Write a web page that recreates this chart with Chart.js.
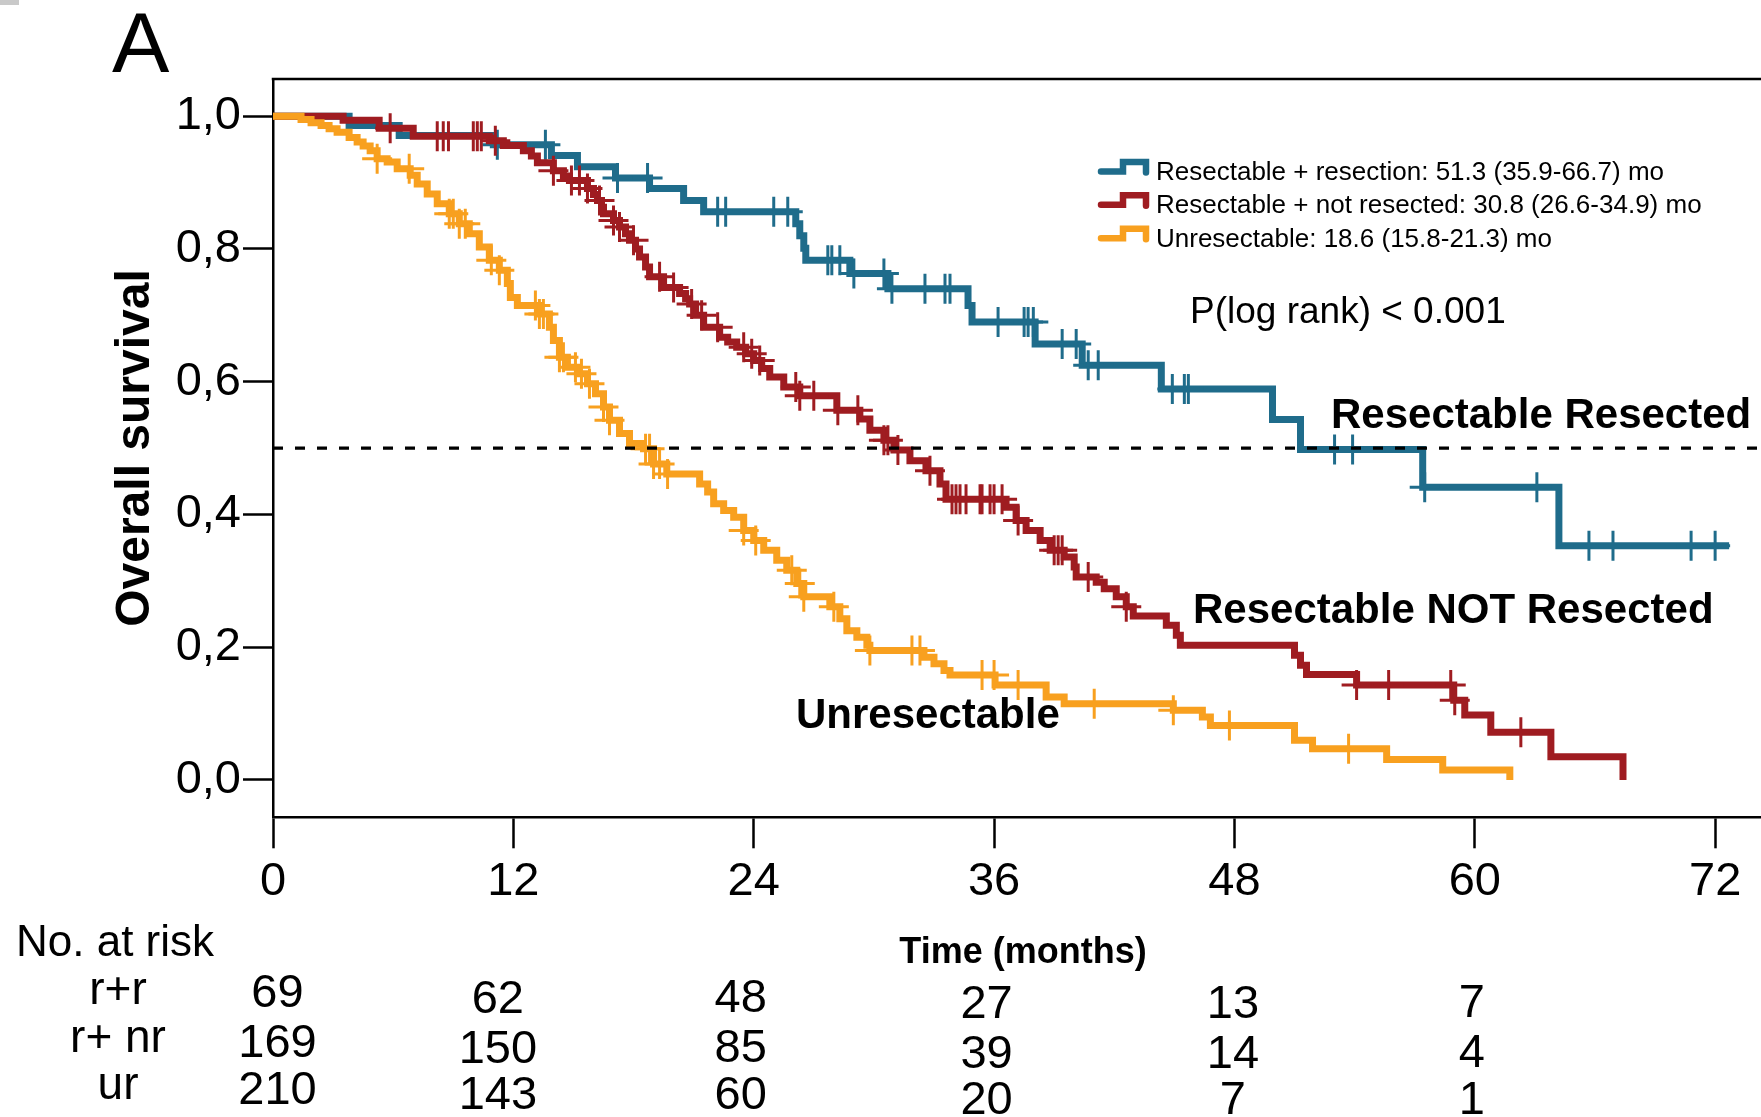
<!DOCTYPE html>
<html>
<head>
<meta charset="utf-8">
<script src="https://cdn.jsdelivr.net/npm/chart.js@4/dist/chart.umd.min.js"></script>
<style>
  html, body { margin: 0; padding: 0; background: #fff; overflow: hidden; }
  #wrap { width: 1761px; height: 1117px; position: relative; }
</style>
</head>
<body>
<div id="wrap"><canvas id="km" width="1761" height="1117"></canvas></div>
<script>
// ---- Kaplan-Meier data: event times (months) and survival after each event ----
const groupNames = [
  'Resectable + resection: 51.3 (35.9-66.7) mo',
  'Resectable + not resected: 30.8 (26.6-34.9) mo',
  'Unresectable: 18.6 (15.8-21.3) mo'
];

// Resectable + resection (r+r)
const rrTimes = [3.8, 6.3, 11.0, 13.9, 15.2, 17.1, 18.8, 20.5, 21.5, 26.1, 26.3, 26.5, 26.6, 28.8, 30.7, 34.7, 34.9, 38.05, 40.4, 44.35, 49.9, 51.3, 57.4, 64.2];
const rrSurv  = [0.986, 0.971, 0.957, 0.941, 0.924, 0.907, 0.891, 0.873, 0.856, 0.838, 0.820, 0.801, 0.783, 0.763, 0.740, 0.715, 0.690, 0.657, 0.625, 0.589, 0.543, 0.498, 0.441, 0.353];
const rrEnd = 72.7;
const rrCensored = [11.2, 13.6, 17.2, 18.7, 22.2, 22.6, 25.0, 25.7, 27.7, 27.9, 28.3, 29.0, 30.5, 30.9, 32.55, 33.55, 33.8, 36.2, 37.5, 37.7, 37.96, 39.4, 40.1, 40.7, 41.2, 44.9, 45.5, 45.7, 53.0, 53.9, 57.5, 63.1, 65.7, 66.9, 70.8, 72.0];

// Resectable + not resected (r+ nr)
const rnrTimes = [3.5, 5.3, 7.0, 10.8, 11.5, 12.5, 12.9, 13.2, 14.0, 14.5, 14.8, 15.7, 16.0, 16.2, 16.4, 16.5, 17.0, 17.3, 17.6, 17.8, 18.1, 18.3, 18.6, 18.8, 19.5, 20.3, 20.6, 20.8, 21.1, 21.5, 22.3, 22.7, 23.15, 23.6, 24.0, 24.4, 24.8, 25.5, 26.3, 28.15, 29.3, 29.8, 30.5, 31.0, 31.8, 32.6, 33.3, 33.6, 36.6, 37.1, 37.6, 38.3, 38.8, 39.5, 40.0, 40.1, 41.1, 41.5, 42.1, 42.6, 42.95, 44.6, 45.1, 45.3, 51.0, 51.3, 51.6, 54.1, 58.95, 59.5, 60.8, 63.8, 67.4];
const rnrSurv  = [0.994, 0.982, 0.970, 0.963, 0.956, 0.948, 0.940, 0.930, 0.918, 0.910, 0.903, 0.891, 0.882, 0.873, 0.863, 0.853, 0.843, 0.833, 0.823, 0.813, 0.800, 0.788, 0.773, 0.758, 0.742, 0.733, 0.725, 0.717, 0.700, 0.682, 0.667, 0.660, 0.652, 0.642, 0.632, 0.620, 0.607, 0.592, 0.579, 0.557, 0.544, 0.527, 0.512, 0.497, 0.481, 0.466, 0.446, 0.423, 0.411, 0.391, 0.376, 0.361, 0.346, 0.336, 0.321, 0.306, 0.298, 0.288, 0.276, 0.261, 0.247, 0.233, 0.218, 0.203, 0.188, 0.173, 0.159, 0.143, 0.120, 0.098, 0.072, 0.035, 0];
const rnrEnd = 67.4;
const rnrCensored = [5.85, 8.2, 8.5, 8.76, 10.0, 10.2, 10.4, 11.1, 14.0, 14.9, 15.3, 15.7, 16.3, 17.0, 17.3, 18.0, 19.3, 20.0, 20.9, 21.4, 22.2, 23.5, 23.9, 24.3, 26.1, 26.3, 27.0, 28.2, 29.2, 30.5, 30.7, 31.2, 32.8, 33.9, 34.1, 34.3, 34.6, 35.3, 35.4, 35.8, 36.0, 36.4, 37.2, 39.0, 39.2, 39.4, 40.7, 42.6, 54.1, 55.7, 58.8, 59.0, 62.3];

// Unresectable (ur)
const urTimes = [1.4, 1.9, 2.4, 2.8, 3.2, 3.8, 4.2, 4.5, 4.85, 5.2, 5.7, 6.2, 6.85, 7.2, 7.7, 8.2, 8.8, 9.3, 9.8, 10.3, 10.8, 11.3, 11.7, 11.85, 12.2, 13.3, 13.8, 14.0, 14.3, 14.7, 15.2, 15.7, 16.1, 16.5, 16.8, 17.3, 17.8, 18.5, 19.0, 19.66, 21.3, 21.7, 22.0, 22.5, 23.0, 23.5, 24.0, 24.5, 25.15, 25.65, 26.15, 26.5, 27.8, 28.3, 28.65, 29.15, 29.65, 29.8, 32.5, 33.0, 33.5, 33.8, 36.05, 38.6, 39.5, 44.95, 46.4, 46.8, 51.0, 51.9, 55.6, 58.4, 61.75];
const urSurv  = [0.995, 0.990, 0.986, 0.981, 0.976, 0.968, 0.961, 0.955, 0.948, 0.936, 0.931, 0.921, 0.911, 0.898, 0.883, 0.868, 0.853, 0.838, 0.823, 0.803, 0.783, 0.768, 0.748, 0.727, 0.715, 0.702, 0.682, 0.662, 0.637, 0.622, 0.612, 0.597, 0.582, 0.562, 0.542, 0.522, 0.507, 0.499, 0.476, 0.461, 0.446, 0.434, 0.416, 0.406, 0.396, 0.376, 0.361, 0.346, 0.331, 0.316, 0.296, 0.276, 0.261, 0.243, 0.225, 0.215, 0.203, 0.195, 0.185, 0.175, 0.165, 0.158, 0.143, 0.125, 0.115, 0.105, 0.095, 0.082, 0.060, 0.047, 0.031, 0.015, 0];
const urEnd = 61.75;
const urCensored = [5.2, 6.8, 8.8, 9.0, 9.3, 9.6, 10.9, 11.3, 13.1, 13.3, 13.5, 14.3, 14.5, 15.1, 15.4, 15.8, 16.5, 16.8, 18.6, 18.8, 19.0, 19.3, 19.7, 23.5, 24.1, 25.9, 26.3, 26.5, 28.0, 29.8, 31.9, 32.3, 35.4, 36.0, 37.2, 41.0, 44.95, 47.75, 53.7];

// Number at risk
const riskTimes = [0, 12, 24, 36, 48, 60];
const riskRowLabels = ['r+r', 'r+ nr', 'ur'];
const riskRR  = [69, 62, 48, 27, 13, 7];
const riskRNR = [169, 150, 85, 39, 14, 4];
const riskUR  = [210, 143, 60, 20, 7, 1];

// Axes
const xTicks = [0, 12, 24, 36, 48, 60, 72];
const yTicks = [0, 0.2, 0.4, 0.6, 0.8, 1.0];
const yTickLabels = ['0,0', '0,2', '0,4', '0,6', '0,8', '1,0'];
const medianLine = 0.5;

// ---- styling ----
const FONT = "'Liberation Sans', Arial, Helvetica, sans-serif";
const BLUE = '#1f6c8b';
const RED = '#9f1c21';
const ORANGE = '#f8a01f';
const X_MAX = 74.29;

// Build Kaplan-Meier staircase points from event times
function stepPoints(times, surv, end) {
  const pts = [{ x: 0, y: 1 }];
  let s = 1;
  times.forEach((t, i) => {
    pts.push({ x: t, y: s });
    s = surv[i];
    pts.push({ x: t, y: s });
  });
  if (end > times[times.length - 1]) pts.push({ x: end, y: s });
  return pts;
}
function survivalAt(times, surv, t) {
  let s = 1;
  for (let i = 0; i < times.length; i++) if (times[i] <= t) s = surv[i];
  return s;
}
function censorPoints(times, surv, cens) {
  return cens.map(t => ({ x: t, y: survivalAt(times, surv, t) }));
}

function curve(label, data, color, order) {
  return {
    label, data, order,
    borderColor: color, borderWidth: 7,
    pointRadius: 0, fill: false, tension: 0,
    borderJoinStyle: 'miter', borderCapStyle: 'butt'
  };
}
function marks(label, data, color, order) {
  return {
    label, data, order,
    showLine: false,
    pointStyle: 'cross', pointRadius: 15,
    pointBorderColor: color, pointBorderWidth: 3,
    pointBackgroundColor: color
  };
}

// ---- extra drawing: frame, titles, legend, labels, risk table ----
const extras = {
  id: 'extras',
  afterDraw(chart) {
    const c = chart.ctx, a = chart.chartArea;
    const xs = chart.scales.x;
    c.save();

    // small grey mark in the corner
    c.fillStyle = '#c9c9c9';
    c.fillRect(0, 0, 19, 5);

    // top frame line
    c.strokeStyle = '#000';
    c.lineWidth = 2.5;
    c.beginPath();
    c.moveTo(a.left - 1.25, a.top);
    c.lineTo(chart.width, a.top);
    c.stroke();

    c.fillStyle = '#000';
    c.textBaseline = 'alphabetic';

    // panel letter
    c.textAlign = 'left';
    c.font = `86px ${FONT}`;
    c.fillText('A', 112, 72);

    // y axis title
    c.save();
    c.translate(148.5, 448);
    c.rotate(-Math.PI / 2);
    c.textAlign = 'center';
    c.font = `bold 48px ${FONT}`;
    c.fillText('Overall survival', 0, 0);
    c.restore();

    // x axis title
    c.textAlign = 'center';
    c.font = `bold 36px ${FONT}`;
    c.fillText('Time (months)', 1023, 963);

    // legend
    const colors = [BLUE, RED, ORANGE];
    const legBase = [180, 213.3, 246.7];
    groupNames.forEach((name, i) => {
      const b = legBase[i];
      c.strokeStyle = colors[i];
      c.lineWidth = 6.5;
      c.lineCap = 'round';
      c.lineJoin = 'miter';
      c.beginPath();
      c.moveTo(1101, b - 8.5);
      c.lineTo(1123, b - 8.5);
      c.lineTo(1123, b - 18);
      c.lineTo(1146, b - 18);
      c.lineTo(1146, b - 7.5);
      c.stroke();
      c.fillStyle = '#000';
      c.textAlign = 'left';
      c.font = `26px ${FONT}`;
      c.fillText(name, 1156, b);
    });

    // log-rank p value
    c.textAlign = 'left';
    c.font = `37px ${FONT}`;
    c.fillText('P(log rank) < 0.001', 1190, 323);

    // curve labels
    c.font = `bold 42px ${FONT}`;
    c.fillText('Resectable Resected', 1331, 428);
    c.fillText('Resectable NOT Resected', 1193, 623);
    c.fillText('Unresectable', 796, 728);

    // number at risk table
    c.font = `44px ${FONT}`;
    c.fillText('No. at risk', 16, 956);

    const rows = [riskRR, riskRNR, riskUR];
    const rowBase = [1007, 1057, 1103.5];
    const labelBase = [1003.5, 1052, 1098.5];
    const colShiftX = [4.5, -15.5, -13, -7.5, -1.5, -3];
    const colShiftY = [0, 5.5, 5, 10.5, 10.5, 10];
    c.textAlign = 'center';
    riskRowLabels.forEach((lab, r) => {
      c.font = `46px ${FONT}`;
      c.fillText(lab, 118, labelBase[r]);
      c.font = `47px ${FONT}`;
      rows[r].forEach((n, k) => {
        const px = xs.getPixelForValue(riskTimes[k]) + colShiftX[k];
        c.fillText(String(n), px, rowBase[r] + colShiftY[k]);
      });
    });

    c.restore();
  }
};

const datasets = [
  curve('r+r', stepPoints(rrTimes, rrSurv, rrEnd), BLUE, 6),
  marks('r+r censored', censorPoints(rrTimes, rrSurv, rrCensored), BLUE, 5),
  curve('r+ nr', stepPoints(rnrTimes, rnrSurv, rnrEnd), RED, 4),
  marks('r+ nr censored', censorPoints(rnrTimes, rnrSurv, rnrCensored), RED, 3),
  curve('ur', stepPoints(urTimes, urSurv, urEnd), ORANGE, 2),
  marks('ur censored', censorPoints(urTimes, urSurv, urCensored), ORANGE, 1),
  {
    label: 'median', order: 0,
    data: [{ x: 0, y: medianLine }, { x: X_MAX, y: medianLine }],
    borderColor: '#000', borderWidth: 3.4, borderDash: [10, 12],
    pointRadius: 0, fill: false
  }
];

new Chart(document.getElementById('km'), {
  type: 'line',
  data: { datasets },
  options: {
    responsive: false,
    animation: false,
    events: [],
    layout: { autoPadding: false, padding: { top: 79, left: 0, right: 0, bottom: 0 } },
    plugins: { legend: { display: false }, tooltip: { enabled: false } },
    scales: {
      x: {
        type: 'linear', min: 0, max: X_MAX,
        afterFit(s) { s.height = 1117 - 817.3; s.paddingLeft = 0; s.paddingRight = 0; },
        afterBuildTicks(s) { s.ticks = xTicks.map(v => ({ value: v })); },
        ticks: {
          color: '#000', font: { family: FONT, size: 47 },
          padding: 6, maxRotation: 0, autoSkip: false, includeBounds: false
        },
        grid: { drawOnChartArea: false, drawTicks: true, tickLength: 31, tickWidth: 2.5, tickColor: '#000' },
        border: { display: true, color: '#000', width: 2.5 }
      },
      y: {
        min: -0.0562, max: 1.0561,
        afterFit(s) { s.width = 273; s.paddingTop = 0; s.paddingBottom = 0; },
        afterBuildTicks(s) { s.ticks = yTicks.map(v => ({ value: v })); },
        ticks: {
          color: '#000', font: { family: FONT, size: 47 }, padding: 2,
          callback: (v, i) => yTickLabels[i]
        },
        grid: { drawOnChartArea: false, drawTicks: true, tickLength: 30, tickWidth: 2.5, tickColor: '#000' },
        border: { display: true, color: '#000', width: 2.5 }
      }
    }
  },
  plugins: [extras]
});
</script>
</body>
</html>
